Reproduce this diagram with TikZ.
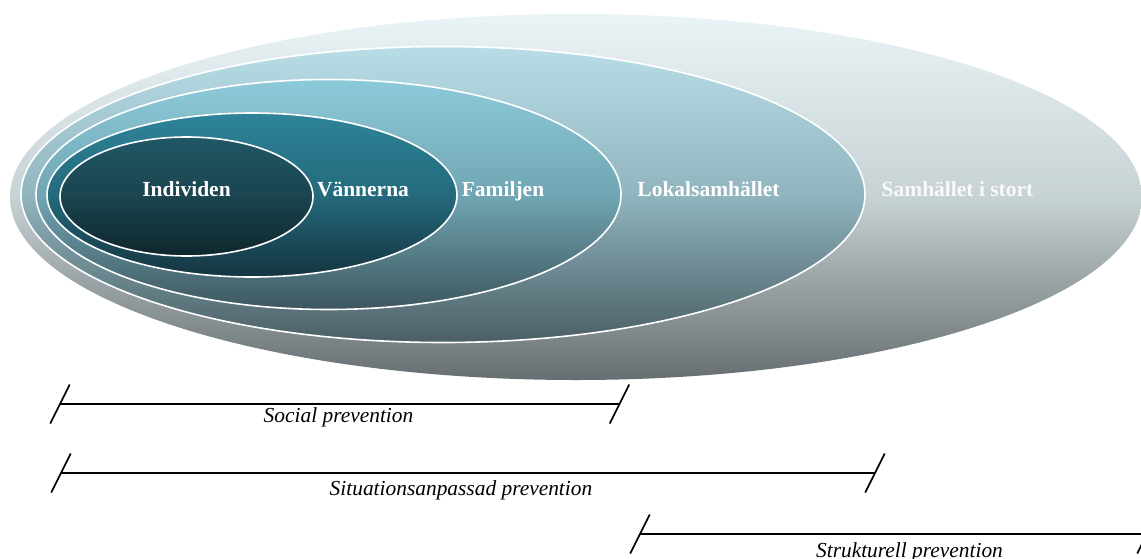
\documentclass[tikz,border=0pt]{standalone}
\usepackage{fontspec}
\setmainfont{Liberation Serif}
\definecolor{oT}{HTML}{EAF4F7}
\definecolor{oM}{HTML}{C7D2D5}
\definecolor{oB}{HTML}{666E71}
\definecolor{lT}{HTML}{B8DDE7}
\definecolor{lM}{HTML}{91B5BF}
\definecolor{lB}{HTML}{4A5F65}
\definecolor{fT}{HTML}{8DCAD9}
\definecolor{fM}{HTML}{70A6B3}
\definecolor{fB}{HTML}{3D565E}
\definecolor{vT}{HTML}{2E8499}
\definecolor{vM}{HTML}{246A7C}
\definecolor{vB}{HTML}{153440}
\definecolor{iT}{HTML}{215866}
\definecolor{iM}{HTML}{1A4450}
\definecolor{iB}{HTML}{0F262C}
\begin{document}
\begin{tikzpicture}[x=1pt,y=-1pt,
  ring/.style={draw=white,line width=1.6pt},
  lab/.style={text=white,font=\fontsize{21.5}{25}\selectfont\bfseries,anchor=base,inner sep=0pt},
  plab/.style={text=black,font=\fontsize{21.4}{25}\selectfont\itshape,anchor=base,inner sep=0pt},
  bar/.style={line width=1.7pt,draw=black},
]
\useasboundingbox (0,0) rectangle (1141,558);
\clip (0,0) rectangle (1141,558);

% ellipses
\path[top color=oT,bottom color=oB,middle color=oM] (576,197) ellipse [x radius=566pt, y radius=183pt];
\path[ring,top color=lT,bottom color=lB,middle color=lM] (443,194.5) ellipse [x radius=422pt, y radius=148pt];
\path[ring,top color=fT,bottom color=fB,middle color=fM] (328.5,194.5) ellipse [x radius=292.5pt, y radius=115pt];
\path[ring,top color=vT,bottom color=vB,middle color=vM] (252,195) ellipse [x radius=205pt, y radius=82pt];
\path[ring,top color=iT,bottom color=iB,middle color=iM] (186.5,196.5) ellipse [x radius=126.5pt, y radius=59.5pt];

% labels
\node[lab] (ind) at (186.5,196.5) {Individen};
\node[lab] (van) at (363,196.5) {Vännerna};
\node[lab] (fam) at (503,196.5) {Familjen};
\node[lab] (lok) at (708.5,196.5) {Lokalsamhället};
\node[lab,text=white!95!gray] (sam) at (957.5,196.5) {Samhället i stort};

% brackets
\coordinate (s1a) at (60,404);
\coordinate (s1b) at (619.5,404);
\coordinate (s2a) at (61,473);
\coordinate (s2b) at (875,473);
\coordinate (s3a) at (640,534);
\coordinate (s3b) at (1147,534);

\foreach \c in {s1a,s1b,s2a,s2b,s3a,s3b}{
  \draw[bar] ([shift={(-9.75,19.5)}]\c) -- ([shift={(9.75,-19.5)}]\c);
}
\draw[bar] (s1a) -- (s1b);
\draw[bar] (s2a) -- (s2b);
\draw[bar] (s3a) -- (s3b);

\node[plab] (soc) at (338.5,422) {Social prevention};
\node[plab] (sit) at (461,495) {Situationsanpassad prevention};
\node[plab] (str) at (909.5,557) {Strukturell prevention};
\end{tikzpicture}
\end{document}
